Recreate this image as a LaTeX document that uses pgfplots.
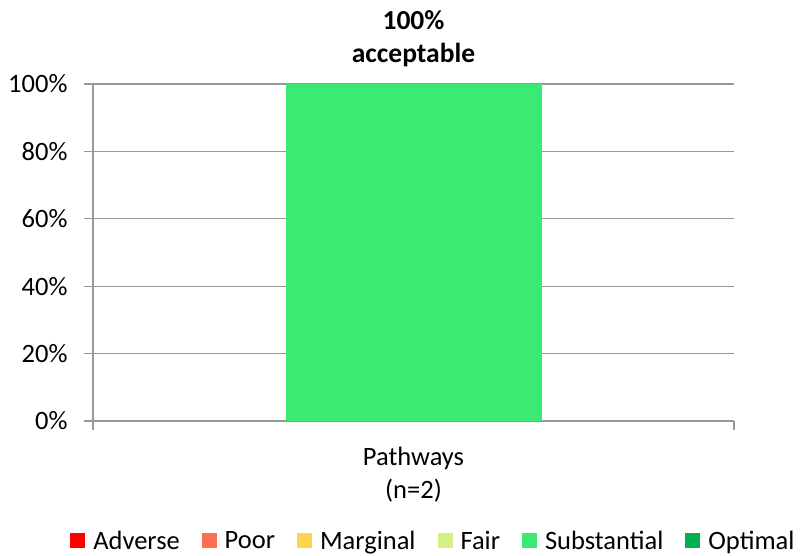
\documentclass[border=0pt]{standalone}
\usepackage{pgfplots}
\pgfplotsset{compat=1.18}
\usepackage{fontspec}
\setmainfont{Carlito}
\definecolor{cAdverse}{HTML}{FF0000}
\definecolor{cPoor}{HTML}{FF6E50}
\definecolor{cMarginal}{HTML}{FFD24F}
\definecolor{cFair}{HTML}{D4F082}
\definecolor{cSubst}{HTML}{3AEA73}
\definecolor{cOptimal}{HTML}{00B050}
\definecolor{gridgray}{HTML}{989898}
\begin{document}
\begin{tikzpicture}
\useasboundingbox (-93bp,-135bp) rectangle (707bp,421bp);
\begin{axis}[
  scale only axis,
  width=641bp, height=337bp,
  ybar stacked,
  bar width=256bp,
  xmin=-0.5, xmax=0.5,
  ymin=0, ymax=100,
  ytick={0,20,40,60,80,100},
  yticklabel={\pgfmathprintnumber{\tick}\%},
  yticklabel style={xshift=-13bp},
  xtick={-0.5,0.5},
  xticklabels={},
  extra x ticks={0},
  extra x tick labels={{Pathways\\(n=2)}},
  extra x tick style={grid=none, major tick length=0bp,
    tick label style={align=center, yshift=-23bp}},
  axis x line*=bottom,
  axis y line*=left,
  axis line style={gridgray, line width=1.2bp, -},
  ymajorgrids,
  grid style={gridgray, line width=1.2bp},
  major tick style={gridgray, line width=1.2bp},
  major tick length=9bp,
  tick align=outside,
  tick label style={font=\fontsize{26.5bp}{33bp}\selectfont, text=black},
  /pgf/number format/assume math mode=true,
  title={100\%\\acceptable},
  title style={align=center, font=\fontsize{27.5bp}{33bp}\selectfont\bfseries, at={(0.5,1)}, anchor=south, yshift=8bp},
  legend style={at={(0.531,-0.356)}, anchor=center, draw=none,
    legend columns=-1, font=\fontsize{26.5bp}{30bp}\selectfont,
    /tikz/every odd column/.append style={column sep=6bp},
    /tikz/every even column/.append style={column sep=20bp}},
  legend image code/.code={\fill[#1] (0bp,-7.5bp) rectangle (15bp,7.5bp);},
]
\addplot[fill=cAdverse, draw=none] coordinates {(0,0)};
\addlegendentry{Adverse}
\addplot[fill=cPoor, draw=none] coordinates {(0,0)};
\addlegendentry{Poor}
\addplot[fill=cMarginal, draw=none] coordinates {(0,0)};
\addlegendentry{Marginal}
\addplot[fill=cFair, draw=none] coordinates {(0,0)};
\addlegendentry{Fair}
\addplot[fill=cSubst, draw=none] coordinates {(0,100)};
\addlegendentry{Substantial}
\addplot[fill=cOptimal, draw=none] coordinates {(0,0)};
\addlegendentry{Optimal}
\end{axis}
\end{tikzpicture}
\end{document}
